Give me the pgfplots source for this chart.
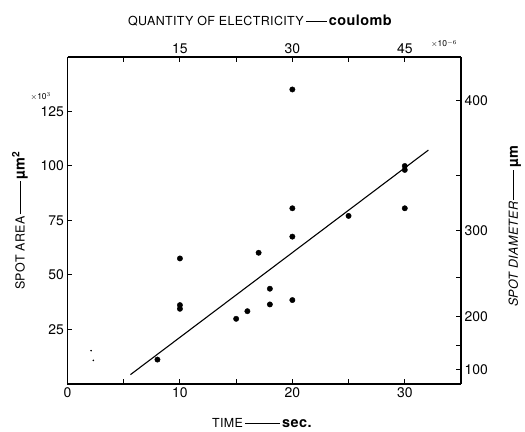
\documentclass[border=0pt]{standalone}
\usepackage{fontspec}
\setmainfont{TeX Gyre Heros}
\usepackage{pgfplots}
\pgfplotsset{compat=1.18}
\newcommand{\dash}[1]{\,\rule[0.33em]{#1}{0.6bp}\,}
\newcommand{\capf}{\fontsize{12.5}{13}\selectfont\addfontfeatures{LetterSpace=3}}
\newcommand{\bigf}{\fontsize{14.5}{15}\selectfont\bfseries}
\begin{document}
\begin{tikzpicture}
\useasboundingbox (-67.5bp,-48bp) rectangle (457.5bp,384bp);
\pgfplotsset{common/.style={
 at={(0,0)}, anchor=south west, scale only axis, width=393.5bp, height=327bp,
 xmin=0,xmax=35,ymin=0,ymax=150,
 axis line style={line width=1.2bp, -},
 tick align=inside, major tick length=5bp, tick style={line width=1bp,black},
 /pgf/number format/assume math mode=true,
 ticklabel style={font=\fontsize{14}{14}\selectfont},
 clip=false,
}}
\begin{axis}[common,
 axis x line*=bottom, axis y line*=left,
 xtick={0,5,...,30}, xticklabels={0,,10,,20,,30},
 ytick={25,50,75,100,125},
]
\addplot[only marks, mark=*, mark size=2.7bp] coordinates {
(8,11.2)(10,57.6)(10,36.2)(10,34.5)(15,29.9)(16,33.4)(17,60.2)(18,43.7)(18,36.5)
(20,135.1)(20,80.6)(20,67.6)(20,38.5)(25,77.1)(30,100)(30,98.2)(30,80.6)};
\addplot[line width=1.1bp] coordinates {(5.6,4.3)(32.1,107.3)};
\addplot[only marks, mark=*, mark size=0.6bp] coordinates {(2.1,15.3)(2.3,10.8)};
\node at (axis description cs:-0.068,0.88) {\fontsize{8.5}{8}\selectfont$\times$10$^3$};
\node at (axis description cs:0.957,1.04) {\fontsize{8.5}{8}\selectfont$\times$10$^{-6}$};
\node at (axis description cs:0.494,-0.119) {\capf TIME\dash{35bp}{\bigf sec.}};
\node[rotate=90] at (axis description cs:-0.121,0.5) {\capf SPOT AREA\dash{33bp}{\bigf µm$^{\mathbf{2}}$}};
\node at (axis description cs:0.489,1.112) {\capf QUANTITY OF ELECTRICITY\dash{21bp}{\bigf coulomb}};
\node[rotate=90] at (axis description cs:1.137,0.483) {\capf\itshape SPOT DIAMETER\dash{30bp}{\upshape\bigf µm}};
\end{axis}
\begin{axis}[common,
 axis x line*=top, axis y line*=right,
 xtick={5,10,...,30}, xticklabels={,15,,30,,45},
 ytick={6.6,17.6,31.1,48.8,70.2,95.8,129.9}, yticklabels={100,,200,,300,,400},
]
\addplot[draw=none] coordinates {(0,0)};
\end{axis}
\end{tikzpicture}
\end{document}
